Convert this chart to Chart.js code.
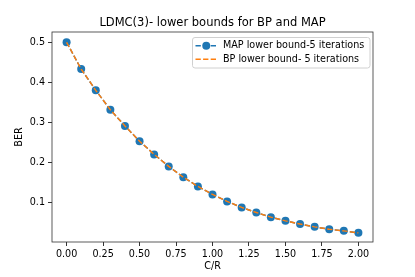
<!DOCTYPE html>
<html>
<head>
<meta charset="utf-8">
<script src="https://cdn.jsdelivr.net/npm/chart.js@4"></script>
<style>
body { margin: 0; background: #fff; }
#wrap { width: 415px; height: 277px; }
</style>
</head>
<body>
<div id="wrap"><canvas id="berChart" width="415" height="277"></canvas></div>
<script>
// C/R values on the x axis
const cr = [0.0, 0.1, 0.2, 0.3, 0.4, 0.5, 0.6, 0.7, 0.8, 0.9, 1.0,
            1.1, 1.2, 1.3, 1.4, 1.5, 1.6, 1.7, 1.8, 1.9, 2.0];

// BER
const mapBer = [0.500, 0.433, 0.380, 0.3315, 0.291, 0.253, 0.220, 0.190, 0.163, 0.140, 0.120,
                0.1025, 0.0875, 0.075, 0.0633, 0.054, 0.046, 0.039, 0.033, 0.029, 0.024];
const bpBer  = [0.500, 0.433, 0.380, 0.3315, 0.291, 0.253, 0.220, 0.190, 0.163, 0.140, 0.120,
                0.1025, 0.0875, 0.075, 0.0633, 0.054, 0.046, 0.039, 0.033, 0.029, 0.024];

const xTicks = [0, 0.25, 0.5, 0.75, 1.0, 1.25, 1.5, 1.75, 2.0];
const yTicks = [0.1, 0.2, 0.3, 0.4, 0.5];

const FONT = "'DejaVu Sans', sans-serif";
const BLUE = "#1f77b4";
const ORANGE = "#ff7f0e";
const DASH = [5.3, 2.3];

function pts(xs, ys){
  return xs.map((x, i) => ({x: x, y: ys[i]}));
}

// matplotlib style frame + legend inside the axes
const framePlugin = {
  id: "frame",
  afterDraw(chart){
    const ctx = chart.ctx;
    const a = chart.chartArea;
    ctx.save();
    ctx.strokeStyle = "#333";
    ctx.lineWidth = 0.8;
    ctx.strokeRect(a.left, a.top, a.right - a.left, a.bottom - a.top);

    // legend box
    const bx = a.right - 180.5, by = a.top + 5.5, bw = 177.5, bh = 30.5;
    ctx.beginPath();
    ctx.roundRect(bx, by, bw, bh, 2.5);
    ctx.fillStyle = "rgba(255,255,255,0.8)";
    ctx.fill();
    ctx.strokeStyle = "#d0d0d0";
    ctx.lineWidth = 1;
    ctx.stroke();

    ctx.font = "9.6px " + FONT;
    ctx.textBaseline = "middle";
    ctx.fillStyle = "#000";
    chart.data.datasets.forEach((ds, i) => {
      const y = by + 8.2 + i * 13.6;
      const x0 = bx + 3, x1 = bx + 24.5;
      ctx.save();
      ctx.strokeStyle = ds.borderColor;
      ctx.lineWidth = ds.borderWidth;
      ctx.setLineDash(ds.borderDash);
      ctx.beginPath();
      ctx.moveTo(x0, y);
      ctx.lineTo(x1, y);
      ctx.stroke();
      if (ds.pointRadius > 0){
        ctx.setLineDash([]);
        ctx.fillStyle = ds.pointBackgroundColor;
        ctx.beginPath();
        ctx.arc((x0 + x1) / 2, y, ds.pointRadius, 0, Math.PI * 2);
        ctx.fill();
      }
      ctx.restore();
      ctx.fillText(ds.label, bx + 30.5, y);
    });
    ctx.restore();
  }
};

new Chart(document.getElementById("berChart"), {
  type: "line",
  data: {
    datasets: [
      {
        label: "MAP lower bound-5 iterations",
        data: pts(cr, mapBer),
        borderColor: BLUE,
        borderWidth: 1.44,
        borderDash: DASH,
        pointRadius: 4,
        pointBackgroundColor: BLUE,
        pointBorderWidth: 0,
        order: 1
      },
      {
        label: "BP lower bound- 5 iterations",
        data: pts(cr, bpBer),
        borderColor: ORANGE,
        borderWidth: 1.44,
        borderDash: DASH,
        pointRadius: 0,
        order: 0
      }
    ]
  },
  options: {
    responsive: false,
    animation: false,
    layout: { padding: { left: 0, right: 42, top: 0, bottom: 0 } },
    plugins: {
      legend: { display: false },
      tooltip: { enabled: false },
      title: {
        display: true,
        fullSize: false,
        text: "LDMC(3)- lower bounds for BP and MAP",
        color: "#000",
        font: { family: FONT, size: 11.5, weight: "normal" },
        padding: { top: 16, bottom: 2.2 }
      }
    },
    scales: {
      x: {
        type: "linear",
        min: -0.1,
        max: 2.1,
        afterBuildTicks: s => { s.ticks = xTicks.map(v => ({value: v})); },
        afterFit: s => { s.height = 35; },
        border: { display: false },
        grid: { display: true, drawOnChartArea: false, drawTicks: true, tickLength: 4, color: "#000", lineWidth: 0.8 },
        ticks: {
          color: "#000",
          padding: 3,
          maxRotation: 0,
          font: { family: FONT, size: 9.6 },
          callback: v => v.toFixed(2)
        },
        title: {
          display: true,
          text: "C/R",
          color: "#000",
          font: { family: FONT, size: 9.6 },
          padding: { top: 0, bottom: 5.2 }
        }
      },
      y: {
        type: "linear",
        min: 0.0012,
        max: 0.5257,
        afterBuildTicks: s => { s.ticks = yTicks.map(v => ({value: v})); },
        afterFit: s => { s.width = 52; },
        border: { display: false },
        grid: { display: true, drawOnChartArea: false, drawTicks: true, tickLength: 4, color: "#000", lineWidth: 0.8 },
        ticks: {
          color: "#000",
          padding: 3,
          font: { family: FONT, size: 9.6 },
          callback: v => v.toFixed(1)
        },
        title: {
          display: true,
          text: "BER",
          color: "#000",
          font: { family: FONT, size: 9.6 },
          padding: { top: 14.2, bottom: 0 }
        }
      }
    }
  },
  plugins: [framePlugin]
});
</script>
</body>
</html>
